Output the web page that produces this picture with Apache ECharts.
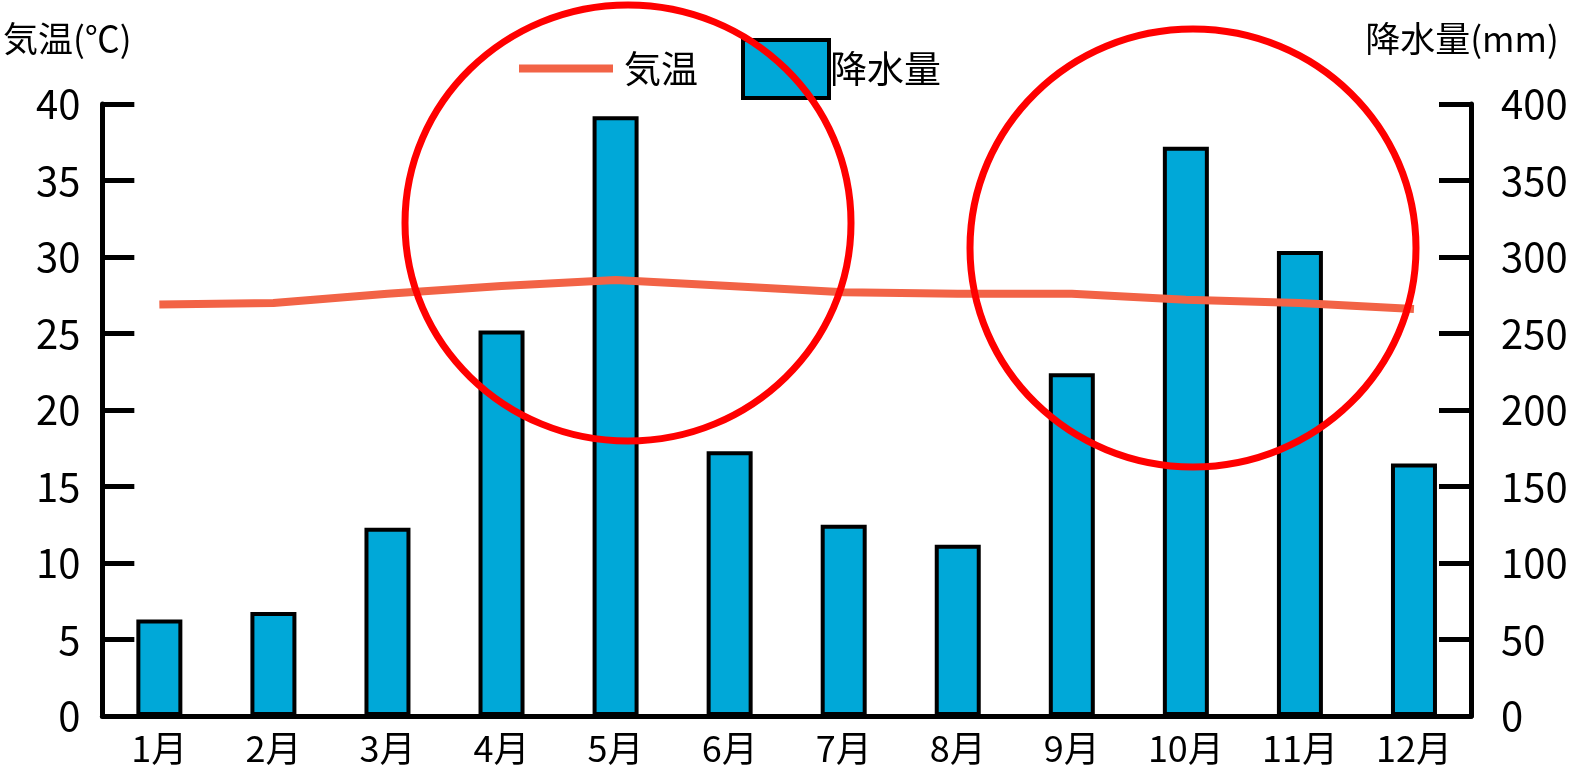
<!DOCTYPE html>
<html><head><meta charset="utf-8">
<script src="https://cdn.jsdelivr.net/npm/echarts@6/dist/echarts.min.js"></script>
<style>html,body{margin:0;padding:0;background:#fff}#c{width:1575px;height:773px}</style>
</head><body><div id="c"></div>
<script>
const months = ['1月','2月','3月','4月','5月','6月','7月','8月','9月','10月','11月','12月'];
const temperature = [26.9, 27.0, 27.6, 28.1, 28.5, 28.1, 27.7, 27.6, 27.6, 27.2, 27.0, 26.6];
const precipitation = [63, 68, 123, 252, 392, 173, 125, 112, 224, 372, 304, 165];
const tempTicks = [0, 5, 10, 15, 20, 25, 30, 35, 40];
const precipTicks = [0, 50, 100, 150, 200, 250, 300, 350, 400];

const FONT = '"Noto Sans CJK JP", sans-serif';
const chart = echarts.init(document.getElementById('c'), null, {renderer: 'canvas'});
chart.setOption({
  animation: false,
  backgroundColor: '#fff',
  grid: {left: 102, right: 104, top: 104, bottom: 57},
  legend: [
    {data: ['気温'], left: 514, top: 45, itemWidth: 94, itemHeight: 8, itemGap: 0, icon: 'rect',
     textStyle: {fontFamily: FONT, fontSize: 37, color: '#000', padding: [0,0,0,6]}},
    {data: ['降水量'], left: 736, top: 33, itemWidth: 86, itemHeight: 58, icon: 'rect',
     itemStyle: {borderColor: '#000', borderWidth: 4},
     textStyle: {fontFamily: FONT, fontSize: 37, color: '#000', padding: [0,0,0,-4]}}
  ],
  xAxis: {
    type: 'category', data: months,
    axisLine: {lineStyle: {color: '#000', width: 5}},
    axisTick: {show: false},
    axisLabel: {fontFamily: FONT, fontSize: 36, color: '#000', margin: 14}
  },
  yAxis: [
    {type: 'value', min: tempTicks[0], max: tempTicks[tempTicks.length-1], interval: 5,
     name: '気温(℃)', nameLocation: 'end', nameGap: 48,
     nameTextStyle: {fontFamily: FONT, fontSize: 35, color: '#000', align: 'center', padding: [0, 70, 0, 0]},
     axisLine: {show: true, lineStyle: {color: '#000', width: 5}},
     axisTick: {show: true, inside: true, length: 32, lineStyle: {color: '#000', width: 5}},
     axisLabel: {fontFamily: FONT, fontSize: 40, color: '#000', margin: 22},
     splitLine: {show: false}},
    {type: 'value', min: precipTicks[0], max: precipTicks[precipTicks.length-1], interval: 50,
     name: '降水量(mm)', nameLocation: 'end', nameGap: 48,
     nameTextStyle: {fontFamily: FONT, fontSize: 35, color: '#000', align: 'center', padding: [0, 18, 0, 0]},
     axisLine: {show: true, lineStyle: {color: '#000', width: 5}},
     axisTick: {show: true, inside: true, length: 32, lineStyle: {color: '#000', width: 5}},
     axisLabel: {fontFamily: FONT, fontSize: 40, color: '#000', margin: 30},
     splitLine: {show: false}},
  ],
  series: [
    {name: '降水量', type: 'bar', yAxisIndex: 1, data: precipitation, barWidth: 46,
     itemStyle: {color: '#00A8D8', borderColor: '#000', borderWidth: 4}, z: 2},
    {name: '気温', type: 'line', yAxisIndex: 0, data: temperature, showSymbol: false, symbol: 'none',
     lineStyle: {color: '#F26346', width: 8}, itemStyle: {color: '#F26346'}, z: 3}
  ],
  graphic: [
    {type: 'ellipse', shape: {cx: 628, cy: 223, rx: 223, ry: 218}, style: {fill: 'none', stroke: '#FF0000', lineWidth: 7}, z: 100},
    {type: 'ellipse', shape: {cx: 1193, cy: 248, rx: 223, ry: 219}, style: {fill: 'none', stroke: '#FF0000', lineWidth: 7}, z: 100}
  ]
});
</script></body></html>
